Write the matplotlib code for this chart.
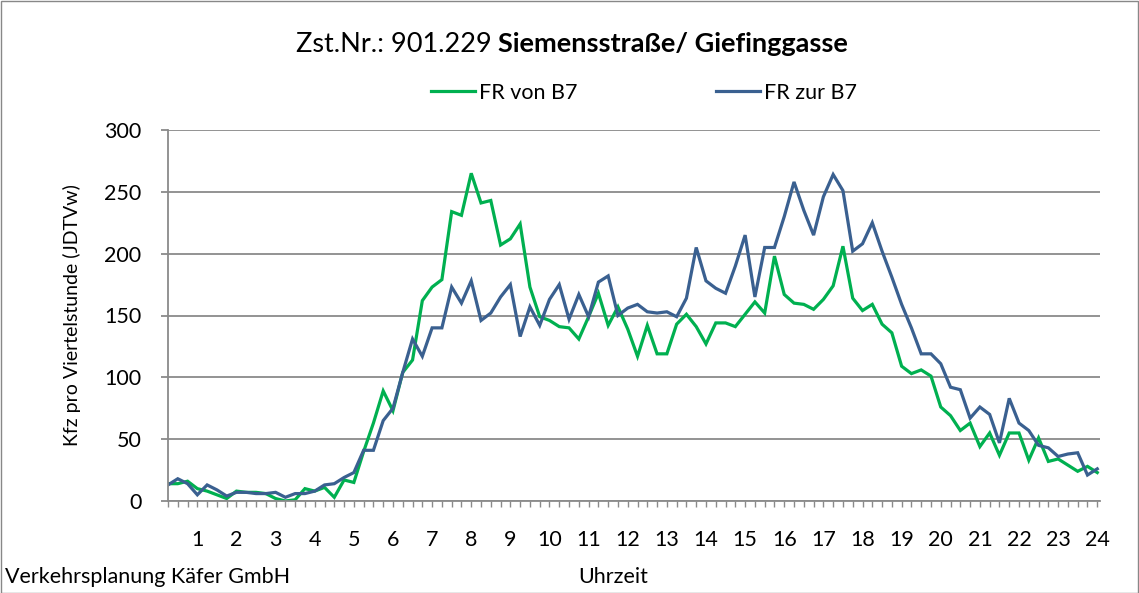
# ============================================================
# import
# ============================================================
import numpy as np
import matplotlib
matplotlib.use('Agg')
import matplotlib.pyplot as plt
from matplotlib.patches import Rectangle


# ============================================================
# data
# ============================================================
# quarter-hour counts, 0:15 ... 24:00
green_label = 'FR von B7'
blue_label = 'FR zur B7'

fr_von_b7 = [14, 14, 16, 10, 8, 5, 2, 8, 7, 7,
             6, 2, 0, 1, 10, 8, 11, 3, 17, 15,
             40, 63, 89, 73, 104, 114, 162, 173, 179, 234,
             231, 265, 241, 243, 207, 212, 224, 173, 149, 146,
             141, 140, 131, 149, 168, 142, 157, 139, 117, 142,
             119, 119, 143, 151, 141, 127, 144, 144, 141, 151,
             161, 152, 198, 167, 160, 159, 155, 163, 174, 206,
             164, 154, 159, 143, 136, 109, 103, 106, 101, 76,
             69, 57, 63, 44, 55, 37, 55, 55, 33, 51,
             32, 34, 29, 24, 28, 23]

fr_zur_b7 = [13, 18, 14, 5, 13, 9, 4, 7, 7, 6,
             6, 7, 3, 6, 6, 8, 13, 14, 19, 23,
             41, 41, 65, 75, 104, 131, 117, 140, 140, 173,
             160, 178, 146, 152, 165, 175, 133, 157, 142, 163,
             175, 147, 167, 149, 177, 182, 150, 156, 159, 153,
             152, 153, 149, 164, 205, 178, 172, 168, 190, 215,
             165, 205, 205, 230, 258, 235, 215, 246, 264, 251,
             202, 208, 225, 202, 181, 159, 140, 119, 119, 111,
             92, 90, 67, 76, 70, 47, 83, 63, 57, 45,
             43, 36, 38, 39, 21, 26]

hours = list(range(1, 25))
y_ticks = [0, 50, 100, 150, 200, 250, 300]

title_plain = 'Zst.Nr.: 901.229 '
title_bold = 'Siemensstraße/ Giefinggasse'
y_label = 'Kfz pro Viertelstunde (JDTVw)'
x_label = 'Uhrzeit'
footer = 'Verkehrsplanung Käfer GmbH'


# ============================================================
# plot
# ============================================================
plt.rcParams['font.family'] = ['Lato', 'DejaVu Sans']

W, H, DPI = 1139, 593, 100
fs = 15.5
fig = plt.figure(figsize=(W / DPI, H / DPI), dpi=DPI)
ax = fig.add_axes([168 / W, 1 - 501 / H, (1100 - 168) / W, (501 - 130) / H])

grid_c = '#8a8a8a'
green = '#00b050'
blue = '#3a6090'

t = np.arange(1, len(fr_von_b7) + 1) / 4.0
ax.plot(t, fr_von_b7, color=green, lw=2.3, label=green_label, solid_joinstyle='miter')
ax.plot(t, fr_zur_b7, color=blue, lw=2.3, label=blue_label, solid_joinstyle='miter')

ax.set_xlim(0.25, 24.07)
ax.set_ylim(0, 300)

ax.set_yticks(y_ticks)
ax.yaxis.grid(True, color=grid_c, lw=1.3)
ax.set_axisbelow(True)

ax.set_xticks(hours)
ax.set_xticklabels([str(h) for h in hours])
ax.set_xticks(t, minor=True)

for s in ['top', 'right']:
    ax.spines[s].set_visible(False)
for s in ['left', 'bottom']:
    ax.spines[s].set_color(grid_c)
    ax.spines[s].set_linewidth(1.3)

ax.tick_params(axis='x', which='both', direction='out', length=4, width=1,
               color=grid_c, labelsize=fs, pad=17)
ax.tick_params(axis='y', which='major', direction='out', length=5, width=1.3,
               color=grid_c, labelsize=fs, pad=14)

# title: plain part followed by bold part, centred as a whole
t1 = fig.text(0, 1 - 44 / H, title_plain, fontsize=19.5, va='center', ha='left')
t2 = fig.text(0, 1 - 44 / H, title_bold, fontsize=19.5, va='center', ha='left',
              fontweight='bold')
fig.canvas.draw()
r = fig.canvas.get_renderer()
w1 = t1.get_window_extent(r).width
w2 = t2.get_window_extent(r).width
x0 = 572 - (w1 + w2) / 2
t1.set_x(x0 / W)
t2.set_x((x0 + w1) / W)

ax.legend(loc='center', bbox_to_anchor=(644 / W, 1 - 93 / H),
          bbox_transform=fig.transFigure, ncol=2, frameon=False,
          fontsize=fs, handlelength=2.05, handletextpad=0.2,
          columnspacing=6.4)

fig.text(72 / W, 1 - 315 / H, y_label, rotation=90, fontsize=14,
         ha='center', va='center')
fig.text(613 / W, 1 - 577 / H, x_label, fontsize=fs, ha='center', va='center')
fig.text(5 / W, 1 - 577 / H, footer, fontsize=fs, ha='left', va='center')

# outer frame
fig.patches.append(Rectangle((0.5 / W, 0.5 / H), 1 - 1.5 / W, 1 - 1.5 / H,
                             transform=fig.transFigure, fill=False,
                             edgecolor='#888888', lw=1))

fig.savefig('out.png', dpi=DPI)
